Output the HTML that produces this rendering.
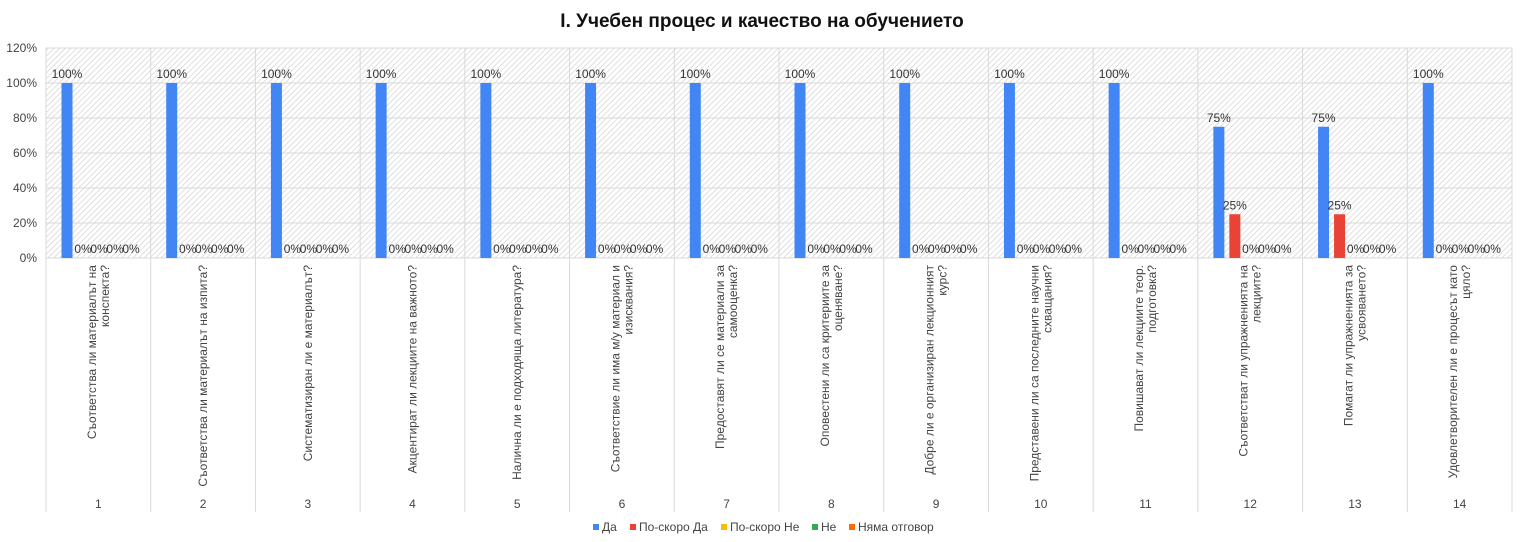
<!DOCTYPE html>
<html><head><meta charset="utf-8"><style>
body{margin:0;background:#fff;}
svg{display:block;font-family:"Liberation Sans",Arial,sans-serif;}
</style></head><body>
<svg id="chart" width="1525" height="542">
<defs><pattern id="hatch" width="4" height="4" patternUnits="userSpaceOnUse" patternTransform="rotate(45)">
<rect width="4" height="4" fill="#fff"/><line x1="0" y1="0" x2="0" y2="4" stroke="#cfcfcf" stroke-width="1.3"/></pattern></defs>
<text x="762" y="27" text-anchor="middle" font-size="19" font-weight="bold" fill="#111">I. Учебен процес и качество на обучението</text>
<g id="plot"></g>
</svg>
<script>
const categories = ["1","2","3","4","5","6","7","8","9","10","11","12","13","14"];
const questions = [
 ["Съответства ли материалът на","конспекта?"],
 ["Съответства ли материалът на изпита?"],
 ["Систематизиран ли е материалът?"],
 ["Акцентират ли лекциите на важното?"],
 ["Налична ли е подходяща литература?"],
 ["Съответствие ли има м/у материал и","изисквания?"],
 ["Предоставят ли се материали за","самооценка?"],
 ["Оповестени ли са критериите за","оценяване?"],
 ["Добре ли е организиран лекционният","курс?"],
 ["Представени ли са последните научни","схващания?"],
 ["Повишават ли лекциите теор.","подготовка?"],
 ["Съответстват ли упражненията на","лекциите?"],
 ["Помагат ли упражненията за","усвояването?"],
 ["Удовлетворителен ли е процесът като","цяло?"]
];
const seriesNames = ["Да","По-скоро Да","По-скоро Не","Не","Няма отговор"];
const seriesColors = ["#4285f4","#ea4335","#fbbc04","#34a853","#ff6d01"];
const da        = [100,100,100,100,100,100,100,100,100,100,100,75,75,100];
const poskoroDa = [0,0,0,0,0,0,0,0,0,0,0,25,25,0];
const poskoroNe = [0,0,0,0,0,0,0,0,0,0,0,0,0,0];
const ne        = [0,0,0,0,0,0,0,0,0,0,0,0,0,0];
const nyama     = [0,0,0,0,0,0,0,0,0,0,0,0,0,0];
const series = [da,poskoroDa,poskoroNe,ne,nyama];
const yTicks = [0,20,40,60,80,100,120];

const NS="http://www.w3.org/2000/svg";
const g=document.getElementById('plot');
const X0=46,X1=1512,Y0=258,Ytop=48;
const cw=(X1-X0)/categories.length;
const y=v=>Y0-(v/120)*(Y0-Ytop);
function el(t,a,txt){const e=document.createElementNS(NS,t);for(const k in a)e.setAttribute(k,a[k]);if(txt!==undefined)e.textContent=txt;g.appendChild(e);return e;}

const bg=el('rect',{x:X0,y:Ytop,width:X1-X0,height:Y0-Ytop,fill:'url(#hatch)'});


yTicks.forEach(t=>{
 const l=el('line',{x1:X0,x2:X1,y1:y(t),y2:y(t),stroke:'#d9d9d9','stroke-width':1});
 
 
 const tx=el('text',{x:37,y:y(t)+4,'text-anchor':'end','font-size':12,fill:'#444'},t+'%');
 
 
});
for(let i=0;i<=categories.length;i++){
 const l=el('line',{x1:X0+i*cw,x2:X0+i*cw,y1:Ytop,y2:512,stroke:'#d9d9d9','stroke-width':1});
 
 
}
categories.forEach((c,i)=>{
 const cx=X0+i*cw+cw/2;
 const n=el('text',{x:cx,y:508,'text-anchor':'middle','font-size':12,fill:'#444'},c);
 
 
 const lines=questions[i];
 lines.forEach((ln,j)=>{
  const off=(j-(lines.length-1)/2)*13+4;
  const t=el('text',{x:0,y:0,'text-anchor':'end','font-size':12,fill:'#444',transform:`translate(${cx+off},265) rotate(-90)`},ln);
  
  
 });
 series.forEach((s,k)=>{
  const bx=X0+i*cw+15.5+k*16;
  const v=s[i];
  const r=el('rect',{x:bx,y:y(v),width:11,height:Y0-y(v),fill:seriesColors[k]});
  
  
  const lt=el('text',{x:bx+5.5,y:y(v)-5,'text-anchor':'middle','font-size':12,fill:'#333'},v+'%');
  
  
 });
});
const legX=[593,630,721,812,849];
seriesNames.forEach((nm,k)=>{
 const r=el('rect',{x:legX[k],y:524,width:6,height:6,fill:seriesColors[k]});
 
 
 const t=el('text',{x:legX[k]+9,y:531,'font-size':12,fill:'#444'},nm);
 
 
});
</script>
</body></html>
